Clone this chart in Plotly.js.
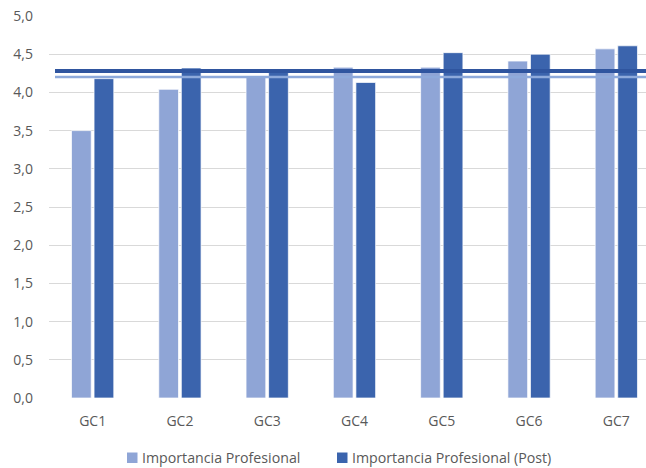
<!DOCTYPE html>
<html>
<head>
<meta charset="utf-8">
<script src="https://cdn.plot.ly/plotly-3.0.1.min.js"></script>
<style>html,body{margin:0;padding:0;background:#fff;}</style>
</head>
<body>
<div id="chart" style="width:646px;height:468px;"></div>
<script>
// Category labels and the two series of mean scores
const categories = ['GC1', 'GC2', 'GC3', 'GC4', 'GC5', 'GC6', 'GC7'];
const seriesNames = ['Importancia Profesional', 'Importancia Profesional (Post)'];
const importancia = [3.50, 4.04, 4.20, 4.33, 4.33, 4.41, 4.57];
const importanciaPost = [4.18, 4.32, 4.29, 4.13, 4.52, 4.50, 4.61];
// Overall level of each series, drawn as a horizontal line across the plot
const seriesLevels = [4.20, 4.28];
const yTicks = [0, 0.5, 1, 1.5, 2, 2.5, 3, 3.5, 4, 4.5, 5];

const barColors = ['#8FA5D6', '#3B64AD'];
const levelColors = ['#8EAADB', '#2F559F'];
const levelWidths = [2.5, 4];

const W = 646, H = 468;
const M = {l: 49, r: 0, t: 16, b: 70};
const plotW = W - M.l - M.r, plotH = H - M.t - M.b;
// pixel position -> paper coordinate (for the hand-made legend)
const px = x => (x - M.l) / plotW;
const py = y => (H - M.b - y) / plotH;

const values = [importancia, importanciaPost];
const traces = values.map((v, i) => ({
  type: 'bar',
  x: categories,
  y: v,
  name: seriesNames[i],
  marker: {color: barColors[i], line: {color: 'rgba(255,255,255,0.7)', width: 1}},
  hoverinfo: 'x+y+name'
}));

const shapes = [];
seriesLevels.forEach((lv, i) => {
  shapes.push({type: 'line', xref: 'paper', yref: 'y', x0: px(55), x1: 1, y0: lv, y1: lv,
    line: {color: levelColors[i], width: levelWidths[i]}, layer: 'above'});
});

// legend: colour square followed by the series name
const legendX = [127, 337];
const annotations = [];
seriesNames.forEach((name, i) => {
  shapes.push({type: 'rect', xref: 'paper', yref: 'paper',
    x0: px(legendX[i]), x1: px(legendX[i] + 10.5), y0: py(463), y1: py(452.5),
    fillcolor: barColors[i], line: {width: 0}});
  annotations.push({xref: 'paper', yref: 'paper', x: px(legendX[i] + 13), y: py(457.5),
    xanchor: 'left', yanchor: 'middle', showarrow: false, text: name,
    font: {family: 'Open Sans', size: 14.2, color: '#595959'}});
});

const layout = {
  width: W, height: H,
  margin: M,
  paper_bgcolor: '#ffffff', plot_bgcolor: '#ffffff',
  separators: ',.',
  font: {family: 'Open Sans', size: 14, color: '#595959'},
  showlegend: false,
  barmode: 'group',
  bargap: 0.483,
  bargroupgap: 0.126,
  xaxis: {
    type: 'category',
    range: [-0.5, 6.34],
    showgrid: false, zeroline: false, showline: false,
    ticks: '', ticklabelstandoff: 13,
    tickfont: {family: 'Open Sans', size: 14, color: '#595959'}
  },
  yaxis: {
    range: [0, 5],
    tickvals: yTicks,
    tickformat: '.1f',
    showgrid: true, gridcolor: '#d9d9d9', gridwidth: 1,
    zeroline: false, showline: false,
    ticks: '', ticklabelstandoff: 15,
    tickfont: {family: 'Open Sans', size: 14, color: '#595959'}
  },
  shapes: shapes,
  annotations: annotations
};

Plotly.newPlot('chart', traces, layout, {displayModeBar: false, staticPlot: true});
</script>
</body>
</html>
